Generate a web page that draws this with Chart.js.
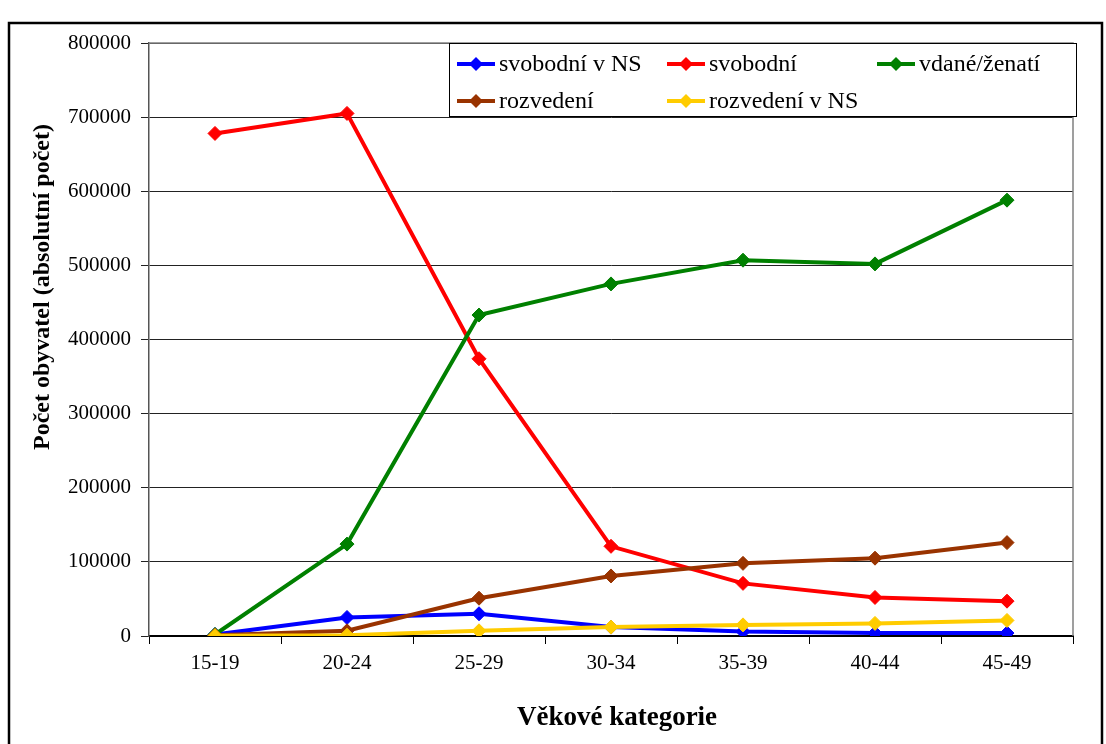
<!DOCTYPE html>
<html><head><meta charset="utf-8">
<script src="https://cdn.jsdelivr.net/npm/chart.js@4"></script>
<style>html,body{margin:0;padding:0;background:#fff;}#wrap{width:1106px;height:744px;position:relative}</style>
</head><body><div id="wrap"><canvas id="c" width="1106" height="744"></canvas></div>
<script>
const categories = ['15-19','20-24','25-29','30-34','35-39','40-44','45-49'];
const svobodniNS   = [2000, 25000, 30000, 12000, 6000, 4000, 4000];
const svobodni     = [678000, 705000, 374000, 121000, 71000, 52000, 47000];
const vdaneZenati  = [2000, 124000, 433000, 475000, 507000, 502000, 588000];
const rozvedeni    = [1000, 7000, 51000, 81000, 98000, 105000, 126000];
const rozvedeniNS  = [500, 1000, 7000, 12000, 15000, 17000, 21000];
const yTickValues  = [0,100000,200000,300000,400000,500000,600000,700000,800000];
const seriesNames  = ['svobodní v NS','svobodní','vdané/ženatí','rozvedení','rozvedení v NS'];
const seriesColors = ['#0000FF','#FF0000','#008000','#993300','#FFCC00'];
const yTitle = 'Počet obyvatel (absolutní počet)';
const xTitle = 'Věkové kategorie';

const seriesData = [svobodniNS, svobodni, vdaneZenati, rozvedeni, rozvedeniNS];
const serif = '"Liberation Serif", "Times New Roman", serif';

const datasets = seriesData.map((d, i) => ({
  label: seriesNames[i], data: d,
  borderColor: seriesColors[i], backgroundColor: seriesColors[i],
  borderWidth: 4, pointStyle: 'rectRot', pointRadius: 7, pointBorderWidth: 1,
  pointBackgroundColor: seriesColors[i], pointBorderColor: seriesColors[i],
  tension: 0, order: -i
}));

const decor = {
  id: 'decor',
  beforeDraw(chart) {
    const ctx = chart.ctx;
    ctx.save(); ctx.fillStyle = '#fff'; ctx.fillRect(0, 0, chart.width, chart.height); ctx.restore();
  },
  afterDraw(chart) {
    const ctx = chart.ctx, a = chart.chartArea;
    ctx.save();
    ctx.strokeStyle = '#808080'; ctx.lineWidth = 1.5;
    ctx.beginPath(); ctx.moveTo(a.left, a.top); ctx.lineTo(a.right, a.top); ctx.lineTo(a.right, a.bottom); ctx.stroke();
    ctx.strokeStyle = '#000'; ctx.lineWidth = 2.5;
    ctx.beginPath(); ctx.moveTo(9, 760); ctx.lineTo(9, 23); ctx.lineTo(1102, 23); ctx.lineTo(1102, 760); ctx.stroke();
    ctx.fillStyle = '#fff'; ctx.fillRect(449, 43, 627, 73);
    ctx.strokeStyle = '#000'; ctx.lineWidth = 1; ctx.strokeRect(449.5, 43.5, 627, 73);
    const pos = [[457, 64], [667, 64], [877, 64], [457, 101], [667, 101]];
    ctx.font = '24px ' + serif; ctx.textBaseline = 'middle'; ctx.textAlign = 'left';
    seriesNames.forEach((n, i) => {
      const [x, y] = pos[i];
      ctx.strokeStyle = seriesColors[i]; ctx.lineWidth = 4;
      ctx.beginPath(); ctx.moveTo(x, y); ctx.lineTo(x + 38, y); ctx.stroke();
      ctx.fillStyle = seriesColors[i];
      ctx.beginPath(); ctx.moveTo(x + 19, y - 7); ctx.lineTo(x + 26, y); ctx.lineTo(x + 19, y + 7); ctx.lineTo(x + 12, y); ctx.closePath(); ctx.fill();
      ctx.fillStyle = '#000'; ctx.fillText(n, x + 42, y + 1);
    });
    ctx.font = 'bold 27px ' + serif; ctx.textAlign = 'center'; ctx.textBaseline = 'middle';
    ctx.fillText(xTitle, 617, 718);
    ctx.font = 'bold 24px ' + serif;
    ctx.translate(43, 287); ctx.rotate(-Math.PI / 2);
    ctx.fillText(yTitle, 0, 0);
    ctx.restore();
  }
};

new Chart(document.getElementById('c'), {
  type: 'line',
  data: { labels: categories, datasets },
  options: {
    responsive: false, animation: false, devicePixelRatio: 1,
    layout: { padding: { top: 43, right: 33, left: 0, bottom: 0 } },
    plugins: { legend: { display: false }, tooltip: { enabled: false } },
    scales: {
      x: {
        offset: true,
        grid: { offset: true, drawOnChartArea: false, drawTicks: true, tickLength: 8, color: '#000', lineWidth: 1 },
        border: { color: '#000', width: 2 },
        ticks: { color: '#000', font: { family: serif, size: 21 }, padding: 7, maxRotation: 0 },
        afterFit(s) { s.height = 108; }
      },
      y: {
        min: 0, max: 800000,
        afterBuildTicks(s) { s.ticks = yTickValues.map(v => ({ value: v })); },
        grid: { color: '#222', lineWidth: 1, tickLength: 8, drawTicks: true },
        border: { color: '#555', width: 1.5 },
        ticks: { color: '#000', font: { family: serif, size: 21 }, padding: 10, callback: v => String(v) },
        afterFit(s) { s.width = 149; }
      }
    }
  },
  plugins: [decor]
});
</script></body></html>
